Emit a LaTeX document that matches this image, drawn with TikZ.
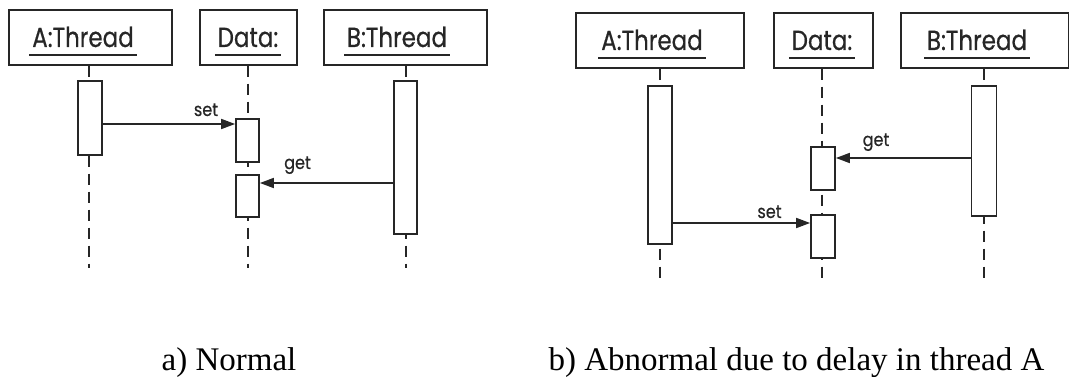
\documentclass[tikz,border=0pt]{standalone}
\usepackage{fontspec}
\setmainfont{Liberation Serif}
\newfontfamily\umlfont[FakeBold=0.6]{Poppins}
\usetikzlibrary{arrows.meta}

\begin{document}
\begin{tikzpicture}[x=1pt,y=-1pt,line width=1.7pt,
  ink/.style={draw=black!85},
  head/.style={ink,rectangle,inner sep=0pt,anchor=north west,minimum height=55pt},
  lbl/.style={inner sep=0pt,anchor=base,font=\umlfont\fontsize{23}{23}\selectfont,text=black!85},
  life/.style={ink,dash pattern=on 11pt off 7pt},
  act/.style={ink,fill=white,rectangle,inner sep=0pt,anchor=north,minimum width=24pt},
  msg/.style={ink,-{Triangle[length=14pt,width=10pt]}},
  msglbl/.style={inner sep=0pt,anchor=base,font=\umlfont\fontsize{16}{16}\selectfont,text=black!85},
  captext/.style={inner sep=0pt,anchor=base,font=\fontsize{33}{33}\selectfont}]
\useasboundingbox (0,0) rectangle (1069,377);

% underlined object name inside a header box
\newcommand\objname[3]{%
  \node[lbl] (#1) at (#2) {\scalebox{1}[1.2]{#3}};
  \draw[ink] ([xshift=-2pt,yshift=-8pt]#1.base west) -- ([xshift=2pt,yshift=-8pt]#1.base east);}

%% ---------------- a) Normal ----------------
\node[head,minimum width=163pt] (hA1) at (8,9) {};
\node[head,minimum width=97pt]  (hD1) at (199,9) {};
\node[head,minimum width=163pt] (hB1) at (323,9) {};
\objname{tA1}{83,47}{A:Thread}
\objname{tD1}{248,47}{Data:}
\objname{tB1}{397,47}{B:Thread}

\coordinate (eA1) at (89,268);
\coordinate (eD1) at (248,268);
\coordinate (eB1) at (406,268);
\draw[life] (hA1.south -| eA1) -- (eA1);
\draw[life] (hD1.south -| eD1) -- (eD1);
\draw[life] (hB1.south -| eB1) -- (eB1);

\node[act,minimum height=74pt]  (aA1)  at (90,80) {};
\node[act,minimum width=23pt,minimum height=43pt] (aD11) at (247.5,118) {};
\node[act,minimum width=23pt,minimum height=42pt] (aD12) at (247.5,174) {};
\node[act,minimum width=23pt,minimum height=153pt] (aB1) at (405.5,80) {};

\coordinate (m11) at ([yshift=-6pt]aD11.north west);
\draw[msg] (aA1.east |- m11) -- (m11);
\node[msglbl] (s1) at (206,116) {\scalebox{1}[1.15]{set}};
\coordinate (m12) at ([yshift=-9pt]aD12.north east);
\draw[msg] (aB1.west |- m12) -- (m12);
\node[msglbl] (g1) at (297.5,169) {\scalebox{1}[1.15]{get}};

\node[captext] (c1) at (229,370) {a) Normal};

%% ------- b) Abnormal due to delay in thread A -------
\node[head,minimum width=168pt] (hA2) at (575,12) {};
\node[head,minimum width=99pt]  (hD2) at (773,12) {};
\node[head,minimum width=168pt] (hB2) at (900,12) {};
\objname{tA2}{652,50}{A:Thread}
\objname{tD2}{822,50}{Data:}
\objname{tB2}{977,50}{B:Thread}

\coordinate (eA2) at (660,279);
\coordinate (eD2) at (822,282);
\coordinate (eB2) at (984,279);
\draw[life] (hA2.south -| eA2) -- (eA2);
\draw[life] (hD2.south -| eD2) -- (eD2);
\draw[life] (hB2.south -| eB2) -- (eB2);

\node[act,minimum height=158pt] (aA2)  at (660,85) {};
\node[act,minimum height=43pt]  (aD21) at (823,146) {};
\node[act,minimum height=43pt]  (aD22) at (823,214) {};
\node[act,minimum width=25pt,minimum height=130pt] (aB2) at (984,85) {};

\coordinate (m21) at ([yshift=-12pt]aD21.north east);
\draw[msg] (aB2.west |- m21) -- (m21);
\node[msglbl] (g2) at (876,146) {\scalebox{1}[1.15]{get}};
\coordinate (m22) at ([yshift=-9pt]aD22.north west);
\draw[msg] (aA2.east |- m22) -- (m22);
\node[msglbl] (s2) at (769.5,218) {\scalebox{1}[1.15]{set}};

\node[captext] (c2) at (796.5,370) {b) Abnormal due to delay in thread A};
\end{tikzpicture}
\end{document}
